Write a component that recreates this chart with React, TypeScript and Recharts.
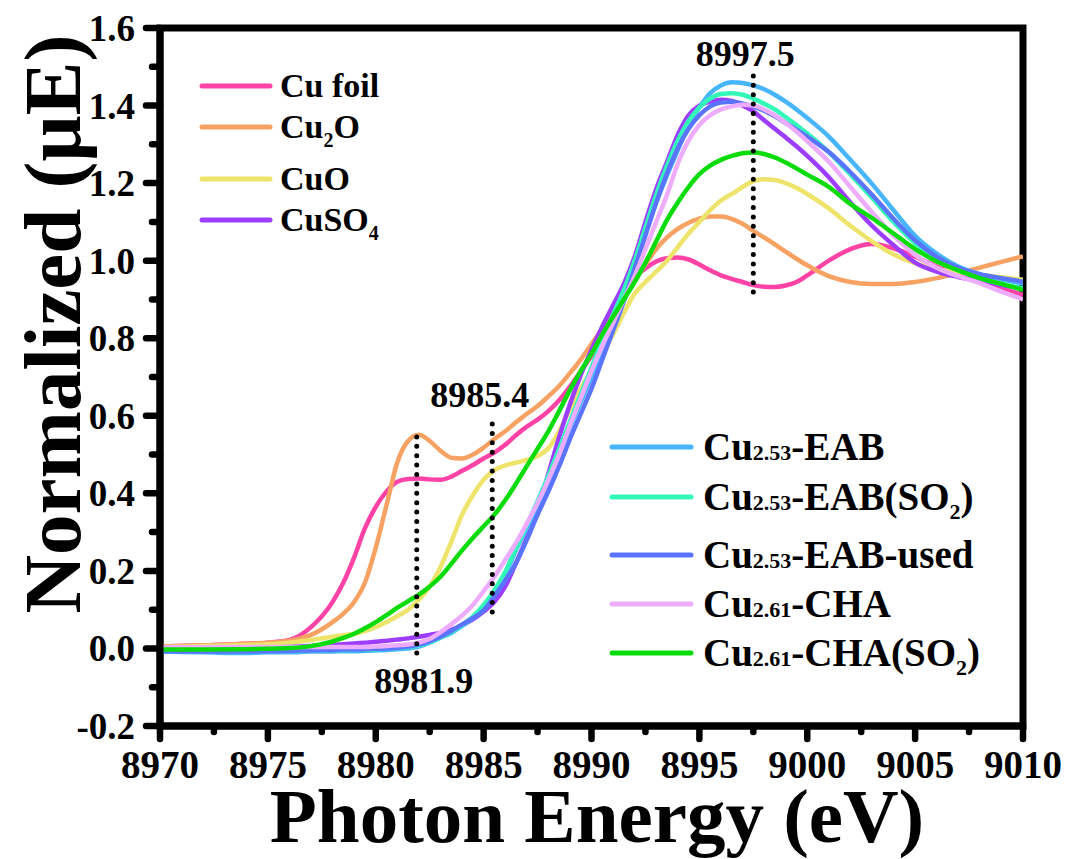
import React from "react";
import { LineChart, Line, XAxis, YAxis, ReferenceLine, ReferenceArea } from "recharts";

// Photon energy grid (eV)
const energy = [
  8970, 8972, 8974, 8975, 8976, 8977, 8978, 8978.5, 8979, 8979.5,
  8980, 8980.5, 8981, 8981.5, 8982, 8982.5, 8983, 8983.5, 8984, 8984.5,
  8985, 8985.5, 8986, 8986.5, 8987, 8987.5, 8988, 8988.5, 8989, 8989.5,
  8990, 8990.5, 8991, 8991.5, 8992, 8992.5, 8993, 8993.5, 8994, 8994.5,
  8995, 8995.5, 8996, 8996.5, 8997, 8997.5, 8998, 8998.5, 8999, 8999.5,
  9000, 9001, 9002, 9003, 9004, 9005, 9006, 9007, 9008, 9009,
  9010,
];

// Normalized absorption, references
const cuFoil = [
  0.005, 0.008, 0.012, 0.015, 0.022, 0.055, 0.12, 0.17, 0.235, 0.31,
  0.365, 0.405, 0.43, 0.437, 0.438, 0.436, 0.435, 0.443, 0.458, 0.473,
  0.49, 0.505, 0.525, 0.55, 0.572, 0.59, 0.612, 0.64, 0.675, 0.715,
  0.755, 0.8, 0.85, 0.9, 0.955, 0.98, 0.998, 1.006, 1.008, 1.003,
  0.99, 0.975, 0.962, 0.953, 0.945, 0.937, 0.933, 0.932, 0.936, 0.945,
  0.962, 1.0, 1.03, 1.043, 1.032, 1.01, 0.985, 0.963, 0.945, 0.928,
  0.912,
];
const cu2O = [
  0.005, 0.008, 0.012, 0.015, 0.02, 0.035, 0.068, 0.09, 0.12, 0.17,
  0.26, 0.37, 0.48, 0.535, 0.551, 0.535, 0.51, 0.492, 0.49, 0.5,
  0.518, 0.54, 0.56, 0.583, 0.605, 0.625, 0.65, 0.677, 0.71, 0.745,
  0.785, 0.825, 0.865, 0.905, 0.95, 0.99, 1.03, 1.06, 1.082, 1.098,
  1.108, 1.114, 1.114, 1.108, 1.095, 1.077, 1.06, 1.042, 1.023, 1.005,
  0.988, 0.96, 0.945, 0.94, 0.94, 0.945, 0.955, 0.968, 0.982, 0.997,
  1.011,
];
const cuO = [
  0.003, 0.006, 0.009, 0.011, 0.015, 0.022, 0.03, 0.034, 0.038, 0.045,
  0.055, 0.068, 0.083, 0.1, 0.126, 0.16, 0.21, 0.275, 0.345, 0.395,
  0.435, 0.46, 0.472, 0.479, 0.486, 0.496, 0.516, 0.56, 0.617, 0.67,
  0.715, 0.76, 0.81, 0.865, 0.915, 0.945, 0.972, 1.0, 1.035, 1.07,
  1.1, 1.13, 1.155, 1.172, 1.19, 1.205, 1.21, 1.208, 1.2, 1.188,
  1.172, 1.135, 1.09, 1.05, 1.016, 0.993, 0.978, 0.97, 0.963, 0.957,
  0.951,
];
const cuSO4 = [
  -0.002, -0.002, 0.0, 0.002, 0.004, 0.006, 0.009, 0.011, 0.013, 0.015,
  0.017, 0.02, 0.023, 0.026, 0.03, 0.035, 0.04, 0.048, 0.06, 0.075,
  0.095, 0.12, 0.16, 0.22, 0.285, 0.36, 0.45, 0.545, 0.63, 0.705,
  0.77, 0.83, 0.885, 0.94, 1.01, 1.1, 1.185, 1.255, 1.325, 1.375,
  1.4, 1.41, 1.415, 1.412, 1.4, 1.385, 1.362, 1.34, 1.318, 1.295,
  1.27, 1.215, 1.15, 1.09, 1.04, 0.995, 0.972, 0.958, 0.947, 0.937,
  0.928,
];

// Normalized absorption, samples
const eab = [
  -0.008, -0.01, -0.012, -0.01, -0.01, -0.008, -0.008, -0.007, -0.007, -0.006,
  -0.005, -0.004, -0.002, 0.0, 0.005, 0.015, 0.028, 0.04, 0.058, 0.078,
  0.108, 0.145, 0.19, 0.254, 0.31, 0.368, 0.43, 0.5, 0.57, 0.635,
  0.7, 0.77, 0.835, 0.9, 0.985, 1.07, 1.15, 1.22, 1.285, 1.35,
  1.395, 1.432, 1.452, 1.46, 1.458, 1.452, 1.442, 1.428, 1.41, 1.39,
  1.368, 1.32, 1.26, 1.198, 1.13, 1.064, 1.018, 0.985, 0.965, 0.952,
  0.941,
];
const eabSO2 = [
  -0.005, -0.006, -0.007, -0.006, -0.006, -0.005, -0.004, -0.004, -0.003, -0.003,
  -0.002, 0.0, 0.002, 0.004, 0.008, 0.016, 0.028, 0.042, 0.06, 0.082,
  0.112, 0.15, 0.198, 0.258, 0.318, 0.38, 0.445, 0.515, 0.585, 0.655,
  0.725, 0.795, 0.86, 0.925, 1.0, 1.085, 1.17, 1.245, 1.31, 1.36,
  1.395, 1.418, 1.43, 1.432, 1.428, 1.418, 1.405, 1.39, 1.37, 1.35,
  1.328, 1.28, 1.222, 1.162, 1.1, 1.045, 1.003, 0.975, 0.955, 0.94,
  0.928,
];
const eabUsed = [
  -0.007, -0.008, -0.008, -0.007, -0.006, -0.005, -0.004, -0.003, -0.003, -0.002,
  -0.001, 0.0, 0.002, 0.005, 0.01, 0.018, 0.03, 0.045, 0.062, 0.078,
  0.098, 0.135, 0.175, 0.22, 0.28, 0.345, 0.405, 0.47, 0.54, 0.605,
  0.67, 0.745, 0.82, 0.895, 0.98, 1.065, 1.15, 1.225, 1.29, 1.34,
  1.375, 1.398, 1.408, 1.41, 1.405, 1.398, 1.387, 1.372, 1.355, 1.338,
  1.32, 1.28, 1.228, 1.17, 1.108, 1.052, 1.01, 0.982, 0.965, 0.955,
  0.946,
];
const cha = [
  0.003, 0.003, 0.004, 0.004, 0.004, 0.004, 0.004, 0.004, 0.004, 0.004,
  0.005, 0.006, 0.008, 0.01, 0.015, 0.025, 0.042, 0.062, 0.085, 0.112,
  0.148, 0.185, 0.228, 0.272, 0.322, 0.375, 0.435, 0.5, 0.575, 0.645,
  0.715, 0.78, 0.84, 0.9, 0.96, 1.03, 1.1, 1.17, 1.25, 1.31,
  1.35, 1.375, 1.39, 1.398, 1.402, 1.4, 1.39, 1.375, 1.355, 1.333,
  1.308, 1.255, 1.19, 1.125, 1.065, 1.015, 0.982, 0.96, 0.942, 0.92,
  0.9,
];
const chaSO2 = [
  -0.003, -0.003, -0.002, -0.001, 0.001, 0.006, 0.018, 0.027, 0.038, 0.052,
  0.068, 0.086, 0.105, 0.122, 0.139, 0.16, 0.185, 0.218, 0.253, 0.285,
  0.315, 0.345, 0.382, 0.425, 0.47, 0.515, 0.56, 0.612, 0.666, 0.715,
  0.76, 0.81, 0.855, 0.9, 0.945, 0.995, 1.05, 1.105, 1.15, 1.19,
  1.223, 1.245, 1.26, 1.27, 1.277, 1.279, 1.275, 1.266, 1.253, 1.238,
  1.222, 1.19, 1.146, 1.11, 1.07, 1.03, 0.998, 0.975, 0.955, 0.94,
  0.925,
];

// Axis ticks
const xMajorTicks = [8970, 8975, 8980, 8985, 8990, 8995, 9000, 9005, 9010];
const xMinorTicks = [8972.5, 8977.5, 8982.5, 8987.5, 8992.5, 8997.5, 9002.5, 9007.5];
const yMajorTicks = [-0.2, 0, 0.2, 0.4, 0.6, 0.8, 1.0, 1.2, 1.4, 1.6];
const yMinorTicks = [-0.1, 0.1, 0.3, 0.5, 0.7, 0.9, 1.1, 1.3, 1.5];

// Dotted guide lines: energy, lower and upper ends
const guideEnergy = [8981.9, 8985.4, 8997.5];
const guideLow = [-0.012, 0.094, 0.919];
const guideHigh = [0.558, 0.597, 1.497];

const FONT = "'Liberation Serif', 'Times New Roman', Times, serif";

type Seg = { t: string; kind?: "sub" | "small" };

const SERIES: { key: string; values: number[]; color: string }[] = [
  { key: "cuFoil", values: cuFoil, color: "#FF42A6" },
  { key: "cu2O", values: cu2O, color: "#F7A263" },
  { key: "cuO", values: cuO, color: "#EEE46C" },
  { key: "cuSO4", values: cuSO4, color: "#9D3DFF" },
  { key: "eab", values: eab, color: "#48B6FF" },
  { key: "eabSO2", values: eabSO2, color: "#33F8B8" },
  { key: "eabUsed", values: eabUsed, color: "#5B74FF" },
  { key: "cha", values: cha, color: "#EEACFF" },
  { key: "chaSO2", values: chaSO2, color: "#0ADB0A" },
];

const referenceLegend: { color: string; label: Seg[] }[] = [
  { color: "#FF42A6", label: [{ t: "Cu foil" }] },
  { color: "#F7A263", label: [{ t: "Cu" }, { t: "2", kind: "sub" }, { t: "O" }] },
  { color: "#EEE46C", label: [{ t: "CuO" }] },
  { color: "#9D3DFF", label: [{ t: "CuSO" }, { t: "4", kind: "sub" }] },
];
const referenceLegendY = [86, 127, 179, 220];

const sampleLegend: { color: string; label: Seg[] }[] = [
  { color: "#48B6FF", label: [{ t: "Cu" }, { t: "2.53", kind: "small" }, { t: "-EAB" }] },
  {
    color: "#33F8B8",
    label: [{ t: "Cu" }, { t: "2.53", kind: "small" }, { t: "-EAB(SO" }, { t: "2", kind: "sub" }, { t: ")" }],
  },
  { color: "#5B74FF", label: [{ t: "Cu" }, { t: "2.53", kind: "small" }, { t: "-EAB-used" }] },
  { color: "#EEACFF", label: [{ t: "Cu" }, { t: "2.61", kind: "small" }, { t: "-CHA" }] },
  {
    color: "#0ADB0A",
    label: [{ t: "Cu" }, { t: "2.61", kind: "small" }, { t: "-CHA(SO" }, { t: "2", kind: "sub" }, { t: ")" }],
  },
];
const sampleLegendY = [447, 497, 555, 604, 653];

const chartData = energy.map((e, i) => {
  const row: Record<string, number> = { energy: e };
  SERIES.forEach((s) => {
    row[s.key] = s.values[i];
  });
  return row;
});

const isIn = (list: number[], v: number) => list.some((t) => Math.abs(t - v) < 1e-6);

const XTick = (props: any) => {
  const { x, y, payload } = props;
  const major = isIn(xMajorTicks, payload.value);
  return (
    <g>
      <line x1={x} y1={y} x2={x} y2={y + (major ? 13 : 6)} stroke="#000" strokeWidth={6.5} strokeLinecap="round" />
      {major && (
        <text x={x} y={y + 52} textAnchor="middle" fontFamily={FONT} fontWeight="bold" fontSize={39} fill="#000">
          {String(payload.value)}
        </text>
      )}
    </g>
  );
};

const YTick = (props: any) => {
  const { x, y, payload } = props;
  const major = isIn(yMajorTicks, payload.value);
  return (
    <g>
      <line x1={x} y1={y} x2={x - (major ? 14 : 8)} y2={y} stroke="#000" strokeWidth={6.5} strokeLinecap="round" />
      {major && (
        <text x={x - 25} y={y + 13} textAnchor="end" fontFamily={FONT} fontWeight="bold" fontSize={37} fill="#000">
          {Number(payload.value).toFixed(1)}
        </text>
      )}
    </g>
  );
};

const guidePlacement = [
  { dx: 7, top: false, dy: 40 },
  { dx: -12.5, top: true, dy: -10 },
  { dx: -8, top: true, dy: -2 },
];

const makeGuideLabel = (i: number) => (props: any) => {
  const vb = props.viewBox || {};
  const p = guidePlacement[i];
  const cx = (vb.x ?? 0) + (vb.width ?? 0) / 2 + p.dx;
  const base = p.top ? vb.y + p.dy : vb.y + vb.height + p.dy;
  return (
    <text x={cx} y={base} textAnchor="middle" fontFamily={FONT} fontWeight="bold" fontSize={36} fill="#000">
      {guideEnergy[i].toFixed(1)}
    </text>
  );
};

const RichText = ({ x, y, size, small, segs }: { x: number; y: number; size: number; small: number; segs: Seg[] }) => {
  let shifted = false;
  const parts: React.ReactNode[] = [];
  segs.forEach((s, i) => {
    if (s.kind === "sub") {
      parts.push(
        <tspan key={i} fontSize={small} dy={shifted ? 0 : 9}>
          {s.t}
        </tspan>
      );
      shifted = true;
    } else if (s.kind === "small") {
      parts.push(
        <tspan key={i} fontSize={small} dy={shifted ? -9 : 0}>
          {s.t}
        </tspan>
      );
      shifted = false;
    } else {
      parts.push(
        <tspan key={i} dy={shifted ? -9 : 0}>
          {s.t}
        </tspan>
      );
      shifted = false;
    }
  });
  return (
    <text x={x} y={y} fontFamily={FONT} fontWeight="bold" fontSize={size} fill="#000">
      {parts}
    </text>
  );
};

export default function App() {
  return (
    <div style={{ position: "fixed", left: 0, top: 0, width: 1069, height: 859, background: "#fff", overflow: "hidden" }}>
      <LineChart
        width={1069}
        height={859}
        data={chartData}
        margin={{ top: 28, right: 46, bottom: 103, left: 100 }}
      >
        <XAxis
          dataKey="energy"
          type="number"
          domain={[8970, 9010]}
          allowDataOverflow
          ticks={[...xMajorTicks, ...xMinorTicks].sort((a, b) => a - b)}
          interval={0}
          height={30}
          tickSize={0}
          tickMargin={0}
          tickLine={false}
          tick={<XTick />}
          axisLine={{ stroke: "#000", strokeWidth: 7 }}
        />
        <YAxis
          type="number"
          domain={[-0.2, 1.6]}
          allowDataOverflow
          ticks={[...yMajorTicks, ...yMinorTicks].sort((a, b) => a - b)}
          interval={0}
          width={60}
          tickSize={0}
          tickMargin={0}
          tickLine={false}
          tick={<YTick />}
          axisLine={{ stroke: "#000", strokeWidth: 7 }}
        />
        {SERIES.map((s) => (
          <Line
            key={s.key}
            dataKey={s.key}
            type="monotone"
            stroke={s.color}
            strokeWidth={4.5}
            dot={false}
            activeDot={false}
            isAnimationActive={false}
          />
        ))}
        {guideEnergy.map((e, i) => (
          <ReferenceLine
            key={`guide-${i}`}
            segment={[
              { x: e, y: guideLow[i] },
              { x: e, y: guideHigh[i] },
            ]}
            stroke="#000"
            strokeWidth={5}
            strokeDasharray="0 9.4"
            strokeLinecap="round"
            label={makeGuideLabel(i)}
          />
        ))}
        <ReferenceArea
          x1={8970}
          x2={9010}
          y1={-0.2}
          y2={1.6}
          fill="none"
          fillOpacity={0}
          stroke="#000"
          strokeWidth={7}
        />
      </LineChart>

      <svg
        width={1069}
        height={859}
        style={{ position: "absolute", left: 0, top: 0, pointerEvents: "none" }}
      >
        {/* axis titles */}
        <text
          x={597}
          y={842}
          textAnchor="middle"
          fontFamily={FONT}
          fontWeight="bold"
          fontSize={77}
          fill="#000"
        >
          Photon Energy (eV)
        </text>
        <text
          x={80}
          y={324}
          transform="rotate(-90 80 324)"
          textAnchor="middle"
          fontFamily={FONT}
          fontWeight="bold"
          fontSize={81}
          fill="#000"
        >
          Normalized (μE)
        </text>

        {/* reference compounds legend */}
        {referenceLegend.map((item, i) => (
          <g key={`rl-${i}`}>
            <line
              x1={202}
              x2={270}
              y1={referenceLegendY[i]}
              y2={referenceLegendY[i]}
              stroke={item.color}
              strokeWidth={5}
              strokeLinecap="round"
            />
            <RichText x={280} y={referenceLegendY[i] + 11} size={34} small={20} segs={item.label} />
          </g>
        ))}

        {/* samples legend */}
        {sampleLegend.map((item, i) => (
          <g key={`sl-${i}`}>
            <line
              x1={612}
              x2={691}
              y1={sampleLegendY[i]}
              y2={sampleLegendY[i]}
              stroke={item.color}
              strokeWidth={5}
              strokeLinecap="round"
            />
            <RichText x={703} y={sampleLegendY[i] + 13} size={39} small={22} segs={item.label} />
          </g>
        ))}
      </svg>
    </div>
  );
}
